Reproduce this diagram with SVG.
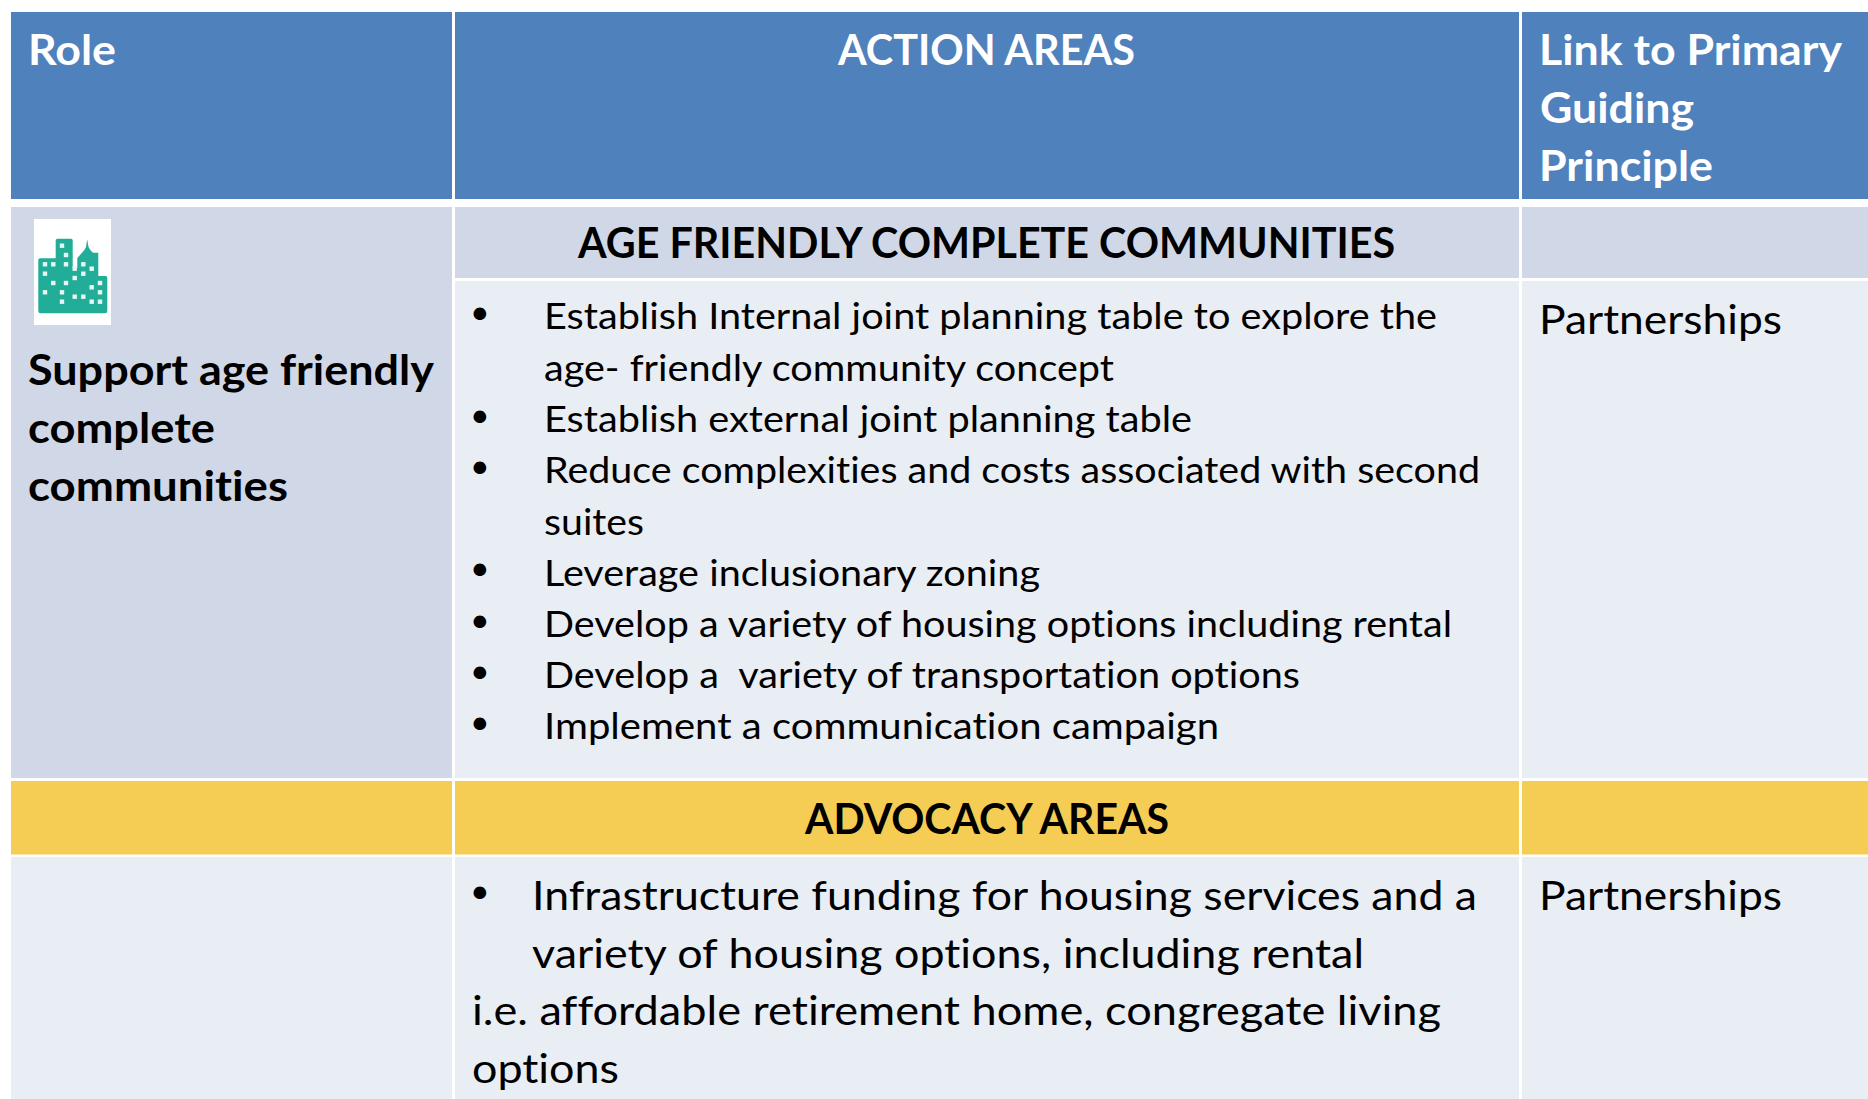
<svg xmlns="http://www.w3.org/2000/svg" width="1868" height="1099" viewBox="0 0 1868 1099">
<style>
text{font-family:Lato,"Noto Sans",sans-serif;fill:#000;white-space:pre;font-variant-ligatures:none}
.b{font-size:36.5px}
.big{font-size:41px}
.h{font-size:42px;font-weight:700}
.w{fill:#fff}
.dot{font-family:"DejaVu Sans",sans-serif;font-size:43.5px}
.blue{fill:#4f81bd}.mid{fill:#d0d8e8}.pale{fill:#e9edf4}.gold{fill:#f6cd54}
.win{fill:#e8f6f3}
</style>
<defs><filter id="soft" x="-5%" y="-5%" width="110%" height="110%"><feGaussianBlur stdDeviation="0.45"/></filter></defs>
<rect width="1868" height="1099" fill="#fff"/>
<g id="header-row">
<rect class="blue" x="11" y="12" width="441" height="187"/>
<rect class="blue" x="455" y="12" width="1064" height="187"/>
<rect class="blue" x="1522" y="12" width="346" height="187"/>
<text class="h w" x="28" y="64.5" textLength="88" lengthAdjust="spacingAndGlyphs">Role</text>
<text class="h w" x="838" y="64.5" textLength="297" lengthAdjust="spacingAndGlyphs">ACTION AREAS</text>
<text class="h w" x="1539" y="64.5" textLength="303" lengthAdjust="spacingAndGlyphs">Link to Primary</text>
<text class="h w" x="1540" y="122.5" textLength="154" lengthAdjust="spacingAndGlyphs">Guiding</text>
<text class="h w" x="1539" y="180.5" textLength="174" lengthAdjust="spacingAndGlyphs">Principle</text>
</g>
<g id="role-cell">
<rect class="mid" x="11" y="207" width="441" height="571"/>
<text class="h" x="28" y="384.5" textLength="406" lengthAdjust="spacingAndGlyphs">Support age friendly</text>
<text class="h" x="28" y="442.5" textLength="187" lengthAdjust="spacingAndGlyphs">complete</text>
<text class="h" x="28" y="500.5" textLength="260" lengthAdjust="spacingAndGlyphs">communities</text>
</g>
<g id="city-icon">
<rect x="34" y="219" width="77" height="106" fill="#fff"/>
<g filter="url(#soft)">
<path fill="#20ad98" d="M40 258.3H55.7V240.5Q55.7 238.7 57.5 238.7H71Q72.7 238.7 72.7 240.5V268H77.3V258L82 252.7Q84.5 250.5 86 247L87.2 239.3L88.5 247Q90 250.5 93 252.7H98.3V276H105.5Q107.3 276 107.3 278V311Q107.3 313.3 105 313.3H40.5Q38.3 313.3 38.3 311V260Q38.3 258.3 40 258.3Z"/>
<g class="win">
<rect x="59.8" y="243.5" width="4.4" height="4.4"/><rect x="63.8" y="252.8" width="4.4" height="4.4"/>
<rect x="42.8" y="262.1" width="4.4" height="4.4"/><rect x="51.1" y="262.1" width="4.4" height="4.4"/><rect x="63.8" y="262.1" width="4.4" height="4.4"/><rect x="72.5" y="266.5" width="4.4" height="4.4"/><rect x="81.1" y="262.1" width="4.4" height="4.4"/><rect x="89.5" y="266.5" width="4.4" height="4.4"/>
<rect x="42.8" y="271.5" width="4.4" height="4.4"/><rect x="81.1" y="271.5" width="4.4" height="4.4"/><rect x="72.5" y="275.8" width="4.4" height="4.4"/>
<rect x="51.1" y="280.8" width="4.4" height="4.4"/><rect x="63.8" y="280.8" width="4.4" height="4.4"/><rect x="97.8" y="280.8" width="4.4" height="4.4"/><rect x="89.5" y="285.1" width="4.4" height="4.4"/>
<rect x="42.8" y="290.1" width="4.4" height="4.4"/><rect x="59.8" y="290.1" width="4.4" height="4.4"/><rect x="97.8" y="290.1" width="4.4" height="4.4"/>
<rect x="59.8" y="299.5" width="4.4" height="4.4"/><rect x="72.5" y="294.5" width="4.4" height="4.4"/><rect x="81.1" y="294.5" width="4.4" height="4.4"/><rect x="89.5" y="299.5" width="4.4" height="4.4"/><rect x="97.8" y="299.5" width="4.4" height="4.4"/>
</g>
</g>
</g>
<g id="action-title">
<rect class="mid" x="455" y="207" width="1064" height="71"/>
<text class="h" x="578" y="257.5" textLength="817" lengthAdjust="spacingAndGlyphs">AGE FRIENDLY COMPLETE COMMUNITIES</text>
</g>
<g id="link-title"><rect class="mid" x="1522" y="207" width="346" height="71"/></g>
<g id="action-list">
<rect class="pale" x="455" y="281" width="1064" height="497"/>
<text class="dot" x="467" y="330">•</text>
<text class="b" x="544" y="329" textLength="893" lengthAdjust="spacingAndGlyphs">Establish Internal joint planning table to explore the</text>
<text class="b" x="544" y="381" textLength="570" lengthAdjust="spacingAndGlyphs">age- friendly community concept</text>
<text class="dot" x="467" y="433">•</text>
<text class="b" x="544" y="432" textLength="648" lengthAdjust="spacingAndGlyphs">Establish external joint planning table</text>
<text class="dot" x="467" y="484">•</text>
<text class="b" x="544" y="483" textLength="936" lengthAdjust="spacingAndGlyphs">Reduce complexities and costs associated with second</text>
<text class="b" x="544" y="534.5" textLength="100" lengthAdjust="spacingAndGlyphs">suites</text>
<text class="dot" x="467" y="586">•</text>
<text class="b" x="544" y="585.5" textLength="496" lengthAdjust="spacingAndGlyphs">Leverage inclusionary zoning</text>
<text class="dot" x="467" y="638">•</text>
<text class="b" x="544" y="637" textLength="908" lengthAdjust="spacingAndGlyphs">Develop a variety of housing options including rental</text>
<text class="dot" x="467" y="689">•</text>
<text class="b" x="544" y="688" textLength="756" lengthAdjust="spacingAndGlyphs">Develop a  variety of transportation options</text>
<text class="dot" x="467" y="740">•</text>
<text class="b" x="544" y="739" textLength="675" lengthAdjust="spacingAndGlyphs">Implement a communication campaign</text>
</g>
<g id="link-partnerships-1">
<rect class="pale" x="1522" y="281" width="346" height="497"/>
<text class="big" x="1539" y="333.5" textLength="243" lengthAdjust="spacingAndGlyphs">Partnerships</text>
</g>
<g id="advocacy-row">
<rect class="gold" x="11" y="781" width="441" height="73.5"/>
<rect class="gold" x="455" y="781" width="1064" height="73.5"/>
<rect class="gold" x="1522" y="781" width="346" height="73.5"/>
<text class="h" x="805" y="834" textLength="364" lengthAdjust="spacingAndGlyphs">ADVOCACY AREAS</text>
</g>
<g id="role-empty"><rect class="pale" x="11" y="857" width="441" height="242"/></g>
<g id="advocacy-list">
<rect class="pale" x="455" y="857" width="1064" height="242"/>
<text class="dot" x="467" y="909">•</text>
<text class="big" x="532" y="910" textLength="945" lengthAdjust="spacingAndGlyphs">Infrastructure funding for housing services and a</text>
<text class="big" x="532" y="967.5" textLength="832" lengthAdjust="spacingAndGlyphs">variety of housing options, including rental</text>
<text class="big" x="472" y="1025" textLength="969" lengthAdjust="spacingAndGlyphs">i.e. affordable retirement home, congregate living</text>
<text class="big" x="472" y="1083" textLength="147" lengthAdjust="spacingAndGlyphs">options</text>
</g>
<g id="link-partnerships-2">
<rect class="pale" x="1522" y="857" width="346" height="242"/>
<text class="big" x="1539" y="910" textLength="243" lengthAdjust="spacingAndGlyphs">Partnerships</text>
</g>
</svg>
